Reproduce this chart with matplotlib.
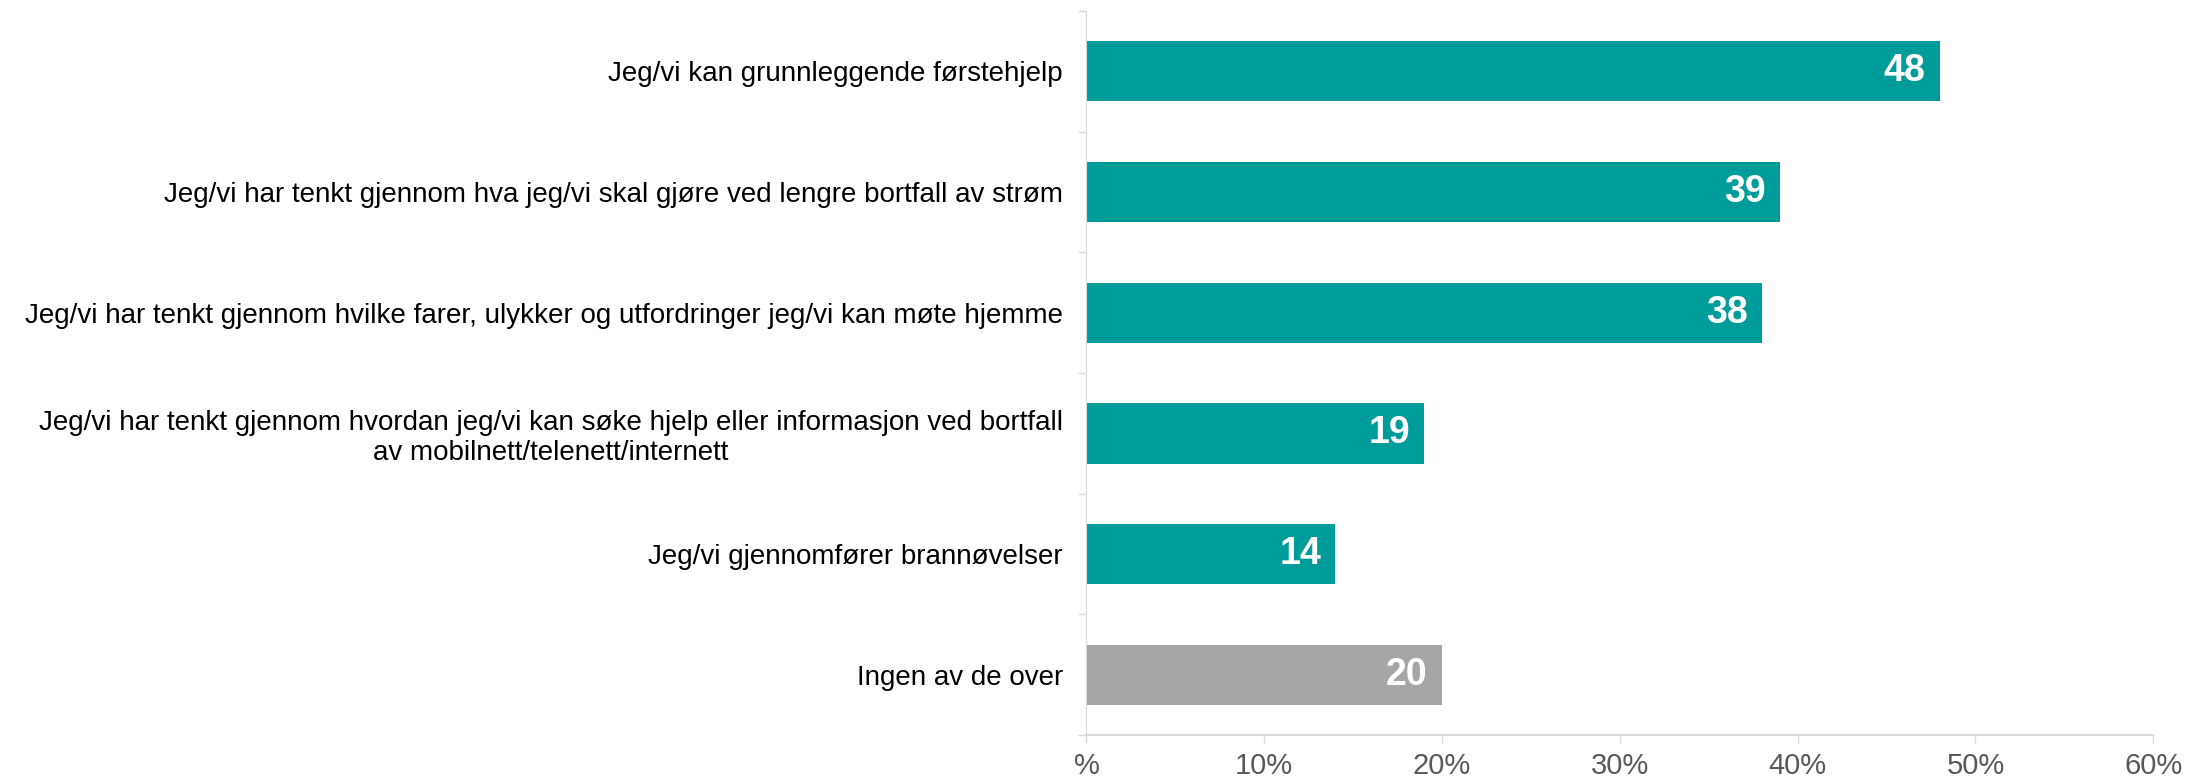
import matplotlib
matplotlib.use("Agg")
import matplotlib.pyplot as plt
from matplotlib import font_manager as fm
import numpy as np

categories = [
    "Jeg/vi kan grunnleggende førstehjelp",
    "Jeg/vi har tenkt gjennom hva jeg/vi skal gjøre ved lengre bortfall av strøm",
    "Jeg/vi har tenkt gjennom hvilke farer, ulykker og utfordringer jeg/vi kan møte hjemme",
    "Jeg/vi har tenkt gjennom hvordan jeg/vi kan søke hjelp eller informasjon ved bortfall\nav mobilnett/telenett/internett",
    "Jeg/vi gjennomfører brannøvelser",
    "Ingen av de over",
]
values = [48, 39, 38, 19, 14, 20]
xticks = [0, 10, 20, 30, 40, 50, 60]
xticklabels = ["%", "10%", "20%", "30%", "40%", "50%", "60%"]

teal = "#009C9A"
gray = "#A6A6A6"
colors = [teal] * 5 + [gray]

names = {f.name for f in fm.fontManager.ttflist}
narrow = "Liberation Sans Narrow" if "Liberation Sans Narrow" in names else "Liberation Sans"

plt.rcParams['font.family'] = ['Liberation Sans', 'DejaVu Sans']

fig = plt.figure(figsize=(21.86, 7.78), dpi=100)
ax = fig.add_axes([0.497, 0.055, 0.488, 0.931])

y = np.arange(len(categories))
bars = ax.barh(y, values, height=0.5, color=colors)
ax.set_ylim(len(categories) - 0.5, -0.5)
ax.set_xlim(0, 60)

for b, v in zip(bars, values):
    ax.text(v - 0.8, b.get_y() + b.get_height() / 2, str(v), ha="right", va="center",
            color="white", fontsize=27, fontweight="bold", family=[narrow, 'DejaVu Sans'])

ax.set_yticks(y)
ax.set_yticklabels(categories, fontsize=20, color="black", ha="right", multialignment="center")
ax.tick_params(axis="y", length=0, pad=17)
ax.set_yticks(np.arange(-0.5, len(categories) + 0.5, 1), minor=True)
ax.tick_params(axis="y", which="minor", length=6, color="#D9D9D9", width=1)

ax.set_xticks(xticks)
ax.set_xticklabels(xticklabels, fontsize=21, color="#595959")
ax.tick_params(axis="x", length=6, color="#D9D9D9", width=1, pad=6)

for s in ["top", "right"]:
    ax.spines[s].set_visible(False)
ax.spines["left"].set_color("#D9D9D9")
ax.spines["bottom"].set_color("#D9D9D9")
ax.spines["bottom"].set_linewidth(1.5)

fig.savefig("out.png", dpi=100, facecolor="white")
